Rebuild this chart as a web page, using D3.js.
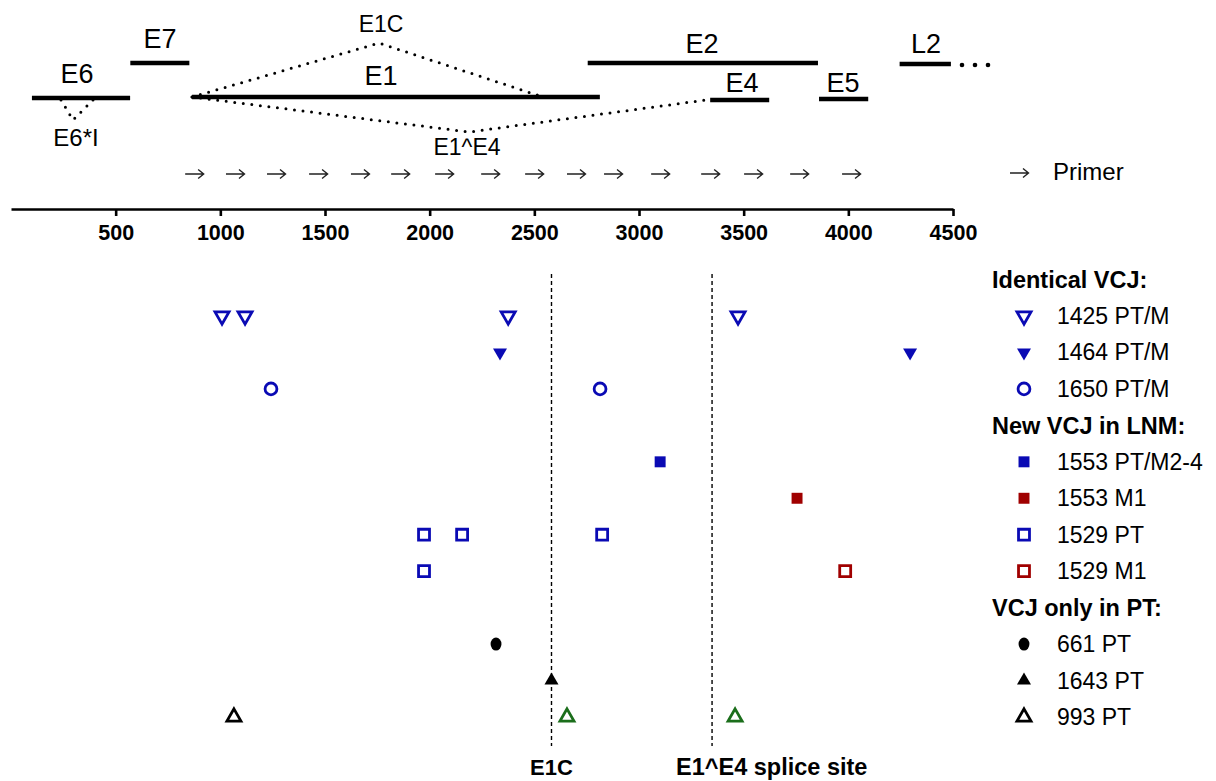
<!DOCTYPE html>
<html><head><meta charset="utf-8">
<script src="https://cdn.jsdelivr.net/npm/d3@7"></script>
<style>body{margin:0;background:#fff}svg{font-family:"Liberation Sans",Arial,sans-serif}</style>
</head><body><svg id="c" width="1216" height="781"></svg>
<script>
// ---- data ----
const axisTicks = [500,1000,1500,2000,2500,3000,3500,4000,4500];
const genes = [
  {name:"E6", start:100, end:569, lane:1},
  {name:"E7", start:570, end:852, lane:0},
  {name:"E1", start:865, end:2813, lane:1},
  {name:"E2", start:2755, end:3855, lane:0},
  {name:"E4", start:3340, end:3622, lane:1},
  {name:"E5", start:3860, end:4095, lane:1},
  {name:"L2", start:4245, end:4490, lane:0}
];
const primers = [875,1070,1266,1467,1667,1859,2069,2289,2499,2699,2876,3101,3340,3545,3765,4013];
const refLines = [{pos:2582,label:"E1C"},{pos:3349,label:"E1^E4 splice site"}];
const legendHeaders = [{row:-1,label:"Identical VCJ:"},{row:3,label:"New VCJ in LNM:"},{row:8,label:"VCJ only in PT:"}];
const seriesNames = ["1425 PT/M","1464 PT/M","1650 PT/M","1553 PT/M2-4","1553 M1","1529 PT","1529 M1","661 PT","1643 PT","993 PT"];
const seriesRows  = [0,1,2,4,5,6,7,9,10,11];
const seriesShape = ["triDown","triDown","circle","square","square","square","square","circle","triUp","triUp"];
const seriesFill  = [false,true,false,true,true,false,false,true,true,false];
const seriesColor = ["#0a0ab4","#0a0ab4","#0a0ab4","#0a0ab4","#a00000","#0a0ab4","#a00000","#000","#000","#000"];
const seriesPoints = [
  [1008,1118,2375,3473],
  [2336,4295],
  [1242,2814],
  [3101],
  [3755],
  [1973,2155,2824],
  [],
  [2317],
  [2582],
  [1065]
];
// extra points sharing a row with a different series' colour
const extraPoints = [
  {series:5,row:7,pos:1973,color:"#0a0ab4"},
  {series:6,row:7,pos:3985,color:"#a00000"},
  {series:9,row:11,pos:2656,color:"#1b6e1b"},
  {series:9,row:11,pos:3459,color:"#1b6e1b"}
];

// ---- scales ----
const svg = d3.select("#c");
const x = d3.scaleLinear().domain([0,4500]).range([11,953]);
const yRow = d3.scaleLinear().domain([0,11]).range([316,717]);
const laneY = [63,97];

// ---- axis ----
const axisG = svg.append("g").attr("transform","translate(0,209)");
axisG.call(d3.axisBottom(x).tickValues(axisTicks).tickFormat(d3.format("d")).tickSize(7).tickPadding(9).tickSizeOuter(0));
axisG.select(".domain").attr("stroke","#000").attr("stroke-width",2.6);
axisG.selectAll(".tick line").attr("stroke","#000").attr("stroke-width",2.6);
axisG.selectAll(".tick text").attr("font-size",21.5).attr("font-weight","bold").attr("fill","#000")
  .attr("font-family","Liberation Sans, Arial, sans-serif");

// ---- gene bars ----
const barOff = {E6:1,E4:3,E5:2,L2:1};
svg.selectAll("line.gene").data(genes).enter().append("line")
  .attr("x1",d=>x(d.start)).attr("x2",d=>x(d.end))
  .attr("y1",d=>laneY[d.lane]+(barOff[d.name]||0))
  .attr("y2",d=>laneY[d.lane]+(barOff[d.name]||0))
  .attr("stroke","#000").attr("stroke-width",4.5);
const geneLabelPos = {E6:[77,83],E7:[160,48],E1:[381,85],E2:[702,53],E4:[742,92],E5:[843,92],L2:[926,53]};
svg.selectAll("text.gl").data(genes).enter().append("text")
  .attr("x",d=>geneLabelPos[d.name][0]).attr("y",d=>geneLabelPos[d.name][1])
  .attr("text-anchor","middle").attr("font-size",27).text(d=>d.name);
// continuation dots
[962,975,988].forEach(cx=>svg.append("circle").attr("cx",cx).attr("cy",65).attr("r",2.3).attr("fill","#000"));

// ---- splice dotted lines ----
const dot = {stroke:"#000","stroke-width":3,"stroke-dasharray":"0,8.6",fill:"none","stroke-linecap":"round"};
function dpath(pts){const p=svg.append("path").attr("d",d3.line()(pts));for(const k in dot)p.attr(k,dot[k]);}
dpath([[x(865),97],[379,43],[540,96]]);
dpath([[x(865),97],[469,132],[706,100]]);
dpath([[61,100],[73,120],[93,100]]);
svg.append("text").attr("x",381).attr("y",32).attr("text-anchor","middle").attr("font-size",23).text("E1C");
svg.append("text").attr("x",467).attr("y",155).attr("text-anchor","middle").attr("font-size",23).text("E1^E4");
svg.append("text").attr("x",76).attr("y",146).attr("text-anchor","middle").attr("font-size",24).text("E6*I");

// ---- primers ----
const arrowD = "M-9,0H9M4,-4.5L9.5,0L4,4.5";
svg.selectAll("path.pr").data(primers).enter().append("path")
  .attr("d",arrowD).attr("transform",d=>`translate(${x(d)},174)`)
  .attr("stroke","#222").attr("stroke-width",1.4).attr("fill","none");
svg.append("path").attr("d",arrowD).attr("transform","translate(1019,173)")
  .attr("stroke","#222").attr("stroke-width",1.4).attr("fill","none");
svg.append("text").attr("x",1053).attr("y",180).attr("font-size",24).text("Primer");

// ---- reference lines ----
refLines.forEach((r,i)=>{
  svg.append("line").attr("x1",x(r.pos)).attr("x2",x(r.pos)).attr("y1",274).attr("y2",746)
    .attr("stroke","#000").attr("stroke-width",1.4).attr("stroke-dasharray","4,3");
  const t = svg.append("text").attr("y",775).attr("font-size",i===0?22:23.5).attr("font-weight","bold").text(r.label);
  if(i===0) t.attr("x",x(r.pos)).attr("text-anchor","middle");
  else t.attr("x",676);
});

// ---- markers ----
function sym(shape){
  if(shape==="circle") return d3.symbol(d3.symbolCircle,110)();
  if(shape==="square") return d3.symbol(d3.symbolSquare,120)();
  return d3.symbol(d3.symbolTriangle,85)();
}
function drawMarker(g,shape,filled,color,px,py){
  const p = g.append("path").attr("d",sym(shape))
    .attr("transform",`translate(${px},${py})`+(shape==="triDown"?" rotate(180)":""));
  if(filled) p.attr("fill",color).attr("stroke","none");
  else p.attr("fill","#fff").attr("stroke",color).attr("stroke-width",2.8);
  if(shape==="circle"&&filled) p.attr("transform",`translate(${px},${py}) scale(0.92,1.1)`);
}
const mk = svg.append("g");
seriesPoints.forEach((pts,i)=>{
  pts.forEach(v=>drawMarker(mk,seriesShape[i],seriesFill[i],seriesColor[i],x(v),yRow(seriesRows[i])));
});
extraPoints.forEach(e=>drawMarker(mk,seriesShape[e.series],seriesFill[e.series],e.color,x(e.pos),yRow(e.row)));

// ---- legend ----
const lg = svg.append("g");
legendHeaders.forEach(h=>{
  lg.append("text").attr("x",992).attr("y",yRow(h.row)+8.5).attr("font-size",23.5).attr("font-weight","bold").text(h.label);
});
seriesNames.forEach((n,i)=>{
  drawMarker(lg,seriesShape[i],seriesFill[i],seriesColor[i],1024,yRow(seriesRows[i]));
  lg.append("text").attr("x",1057).attr("y",yRow(seriesRows[i])+8).attr("font-size",23).text(n);
});
</script></body></html>
